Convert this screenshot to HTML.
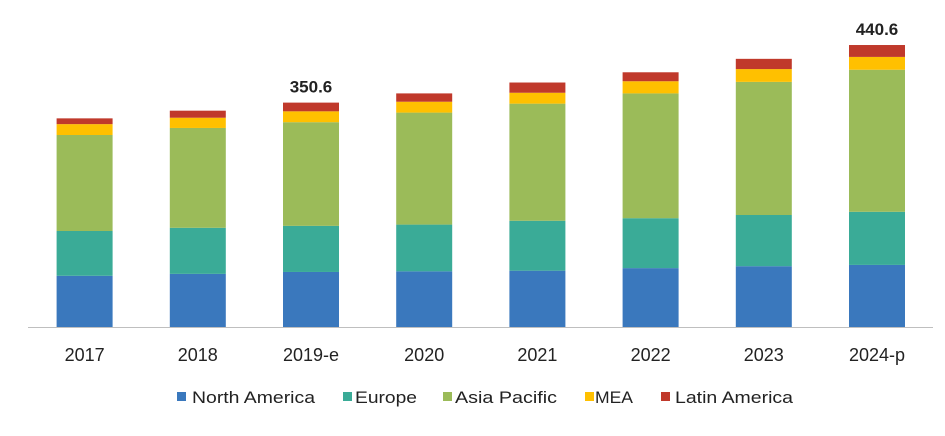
<!DOCTYPE html>
<html><head><meta charset="utf-8"><style>
body{margin:0;background:#fff;}
svg text{font-family:"Liberation Sans",Arial,sans-serif;}
</style></head><body>
<svg id="chart" width="945" height="431" viewBox="0 0 945 431" xmlns="http://www.w3.org/2000/svg"></svg>
<script>
const categories = ["2017","2018","2019-e","2020","2021","2022","2023","2024-p"];
const seriesNames = ["North America","Europe","Asia Pacific","MEA","Latin America"];
const northAmerica = [80,83,86,87,88,92,95,97];
const europe = [70,72,72,73,78,78,80,83];
const asiaPacific = [150,156,162,175,183,195,208,222];
const mea = [17,16,17,17,17,19,20,20];
const latinAmerica = [9,11,13.6,13,16,14,16,18.6];
const totalLabels = ["","","350.6","","","","","440.6"];

const colors = ["#3a78bd","#3aab97","#9bbb59","#ffc000","#c0392b"];
const series = [northAmerica,europe,asiaPacific,mea,latinAmerica];
const svg = document.getElementById('chart');
const NS = "http://www.w3.org/2000/svg";
const baseY = 327, pxPerUnit = 0.64, x0 = 28, band = 113.2, barW = 56;
const yS = v => baseY - v*pxPerUnit;
const xC = i => x0 + band*(i+0.5);

function mk(tag, attrs){const e=document.createElementNS(NS,tag);for(const k in attrs)e.setAttribute(k,attrs[k]);svg.appendChild(e);return e;}

categories.forEach((c,i)=>{
  let acc=0;
  series.forEach((s,j)=>{
    const r=mk('rect',{x:xC(i)-barW/2,y:yS(acc+s[i]),width:barW,height:s[i]*pxPerUnit,fill:colors[j]});
    
    
    acc+=s[i];
  });
  const t=mk('text',{x:xC(i),y:361,'text-anchor':'middle','font-size':18,fill:'#222'});
  t.textContent=c;
  
  
  if(totalLabels[i]){
    const l=mk('text',{x:xC(i),y:yS(acc)-10,'text-anchor':'middle','font-size':17,'font-weight':'bold',fill:'#222'});
    l.textContent=totalLabels[i];
    
    
  }
});
const ax=mk('line',{x1:28,x2:933,y1:baseY+0.5,y2:baseY+0.5,stroke:'#bfbfbf','stroke-width':1});



const legX=[177,343,443,585,661];
const legTX=[192,355,455,595,675];
const legW=[123,62,102,38,118];
seriesNames.forEach((n,j)=>{
  const r=mk('rect',{x:legX[j],y:392,width:9,height:9,fill:colors[j]});
  
  
  const t=mk('text',{x:legTX[j],y:403,'font-size':17,fill:'#222',textLength:legW[j],lengthAdjust:'spacingAndGlyphs'});
  t.textContent=n;
  
  
});
</script>
</body></html>
